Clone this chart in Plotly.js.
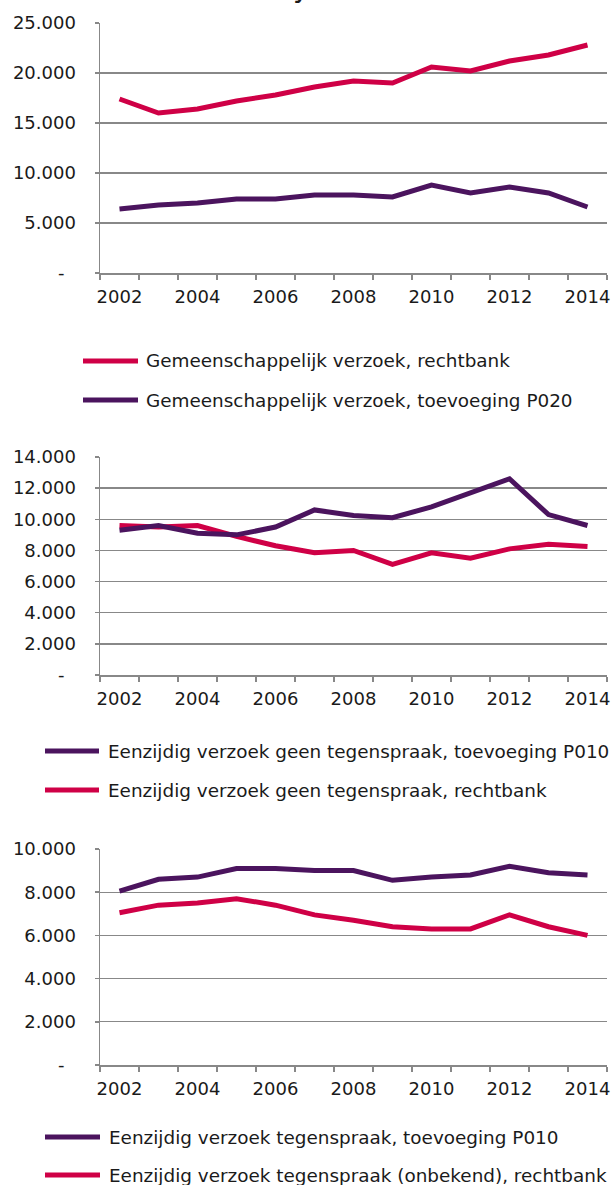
<!DOCTYPE html>
<html><head><meta charset="utf-8">
<script src="https://cdn.plot.ly/plotly-3.0.1.min.js"></script>
<style>html,body{margin:0;padding:0;background:#fff}</style>
</head><body><div id="chart" style="width:615px;height:1185px"></div>
<script>
// ---- data ----
const years = [2002,2003,2004,2005,2006,2007,2008,2009,2010,2011,2012,2013,2014];
const yearLabels = ['2002','','2004','','2006','','2008','','2010','','2012','','2014'];

const p1Names = ['Gemeenschappelijk verzoek, rechtbank', 'Gemeenschappelijk verzoek, toevoeging P020'];
const p1Rechtbank   = [17400,16000,16400,17200,17800,18600,19200,19000,20600,20200,21200,21800,22800];
const p1Toevoeging  = [6400,6800,7000,7400,7400,7800,7800,7600,8800,8000,8600,8000,6600];

const p2Names = ['Eenzijdig verzoek geen tegenspraak, toevoeging P010', 'Eenzijdig verzoek geen tegenspraak, rechtbank'];
const p2Toevoeging  = [9300,9600,9100,9000,9500,10600,10250,10100,10800,11700,12600,10300,9600];
const p2Rechtbank   = [9600,9500,9600,8900,8300,7850,8000,7100,7850,7500,8100,8400,8250];

const p3Names = ['Eenzijdig verzoek tegenspraak, toevoeging P010', 'Eenzijdig verzoek tegenspraak (onbekend), rechtbank'];
const p3Toevoeging  = [8050,8600,8700,9100,9100,9000,9000,8550,8700,8800,9200,8900,8800];
const p3Rechtbank   = [7050,7400,7500,7700,7400,6950,6700,6400,6300,6300,6950,6400,6000];

const y1Ticks = [0,5000,10000,15000,20000,25000];
const y1Labels = ['-\u2007','5.000','10.000','15.000','20.000','25.000'];
const y2Ticks = [0,2000,4000,6000,8000,10000,12000,14000];
const y2Labels = ['-\u2007','2.000','4.000','6.000','8.000','10.000','12.000','14.000'];
const y3Ticks = [0,2000,4000,6000,8000,10000];
const y3Labels = ['-\u2007','2.000','4.000','6.000','8.000','10.000'];

// ---- style ----
const RED = '#CF0046', PURPLE = '#4B145E', GRID = '#888888', TXT = '#1a1a1a';
const FONT = 'DejaVu Sans, Verdana, sans-serif';
const W = 615, H = 1185;
const fx = px => px / W;
const fy = py => 1 - py / H;

function xAxis(anchor){
  return {
    type:'category', domain:[fx(100), fx(607)], anchor:anchor, range:[-0.5,12.5],
    tickmode:'array', tickvals:years, ticktext:yearLabels, tickson:'boundaries', tickangle:0,
    ticks:'outside', ticklen:5, tickwidth:1.5, tickcolor:GRID,
    showline:true, linecolor:GRID, linewidth:1.5, showgrid:false, zeroline:false,
    tickfont:{family:FONT, size:18, color:TXT}, ticklabelstandoff:7, fixedrange:true
  };
}
function yAxis(anchor, top, bottom, maxv, tv, tt){
  return {
    domain:[fy(bottom), fy(top)], anchor:anchor, range:[0,maxv],
    tickmode:'array', tickvals:tv, ticktext:tt,
    ticks:'outside', ticklen:4, tickwidth:1.5, tickcolor:GRID,
    showgrid:true, gridcolor:GRID, gridwidth:1.4,
    showline:true, linecolor:GRID, linewidth:1.5, zeroline:false,
    tickfont:{family:FONT, size:18, color:TXT}, ticklabelstandoff:15, fixedrange:true
  };
}

function tr(y, name, color, xa, ya){
  return {x:years, y:y, name:name, type:'scatter', mode:'lines', xaxis:xa, yaxis:ya,
    line:{color:color, width:5}, showlegend:false, hoverinfo:'x+y'};
}

const data = [
  tr(p1Toevoeging, p1Names[1], PURPLE, 'x', 'y'),
  tr(p1Rechtbank,  p1Names[0], RED,    'x', 'y'),
  tr(p2Rechtbank,  p2Names[1], RED,    'x2','y2'),
  tr(p2Toevoeging, p2Names[0], PURPLE, 'x2','y2'),
  tr(p3Rechtbank,  p3Names[1], RED,    'x3','y3'),
  tr(p3Toevoeging, p3Names[0], PURPLE, 'x3','y3')
];

// legend entries (custom, to match long line samples)
const legendItems = [
  {name:p1Names[0], color:RED,    x0:83, x1:138, tx:144, y:361},
  {name:p1Names[1], color:PURPLE, x0:83, x1:138, tx:144, y:400},
  {name:p2Names[0], color:PURPLE, x0:45, x1:99,  tx:106, y:751},
  {name:p2Names[1], color:RED,    x0:45, x1:99,  tx:106, y:790},
  {name:p3Names[0], color:PURPLE, x0:45, x1:100, tx:107, y:1137},
  {name:p3Names[1], color:RED,    x0:45, x1:100, tx:107, y:1175}
];
const shapes = legendItems.map(it => ({
  type:'line', xref:'paper', yref:'paper', x0:fx(it.x0), x1:fx(it.x1), y0:fy(it.y), y1:fy(it.y),
  line:{color:it.color, width:5}
}));
const annotations = legendItems.map(it => ({
  xref:'paper', yref:'paper', x:fx(it.tx), y:fy(it.y), xanchor:'left', yanchor:'middle',
  text:it.name, showarrow:false, font:{family:FONT, size:18.4, color:TXT}
}));
// partially visible chart title (cut off at the top of the picture)
annotations.push({xref:'paper', yref:'paper', x:fx(301), y:fy(-13), xanchor:'center', yanchor:'middle',
  text:'y', showarrow:false, font:{family:FONT, size:28, color:TXT}});

const layout = {
  width:W, height:H, margin:{l:0,r:0,t:0,b:0}, paper_bgcolor:'#fff', plot_bgcolor:'#fff',
  showlegend:false, font:{family:FONT, color:TXT},
  xaxis:xAxis('y'), yaxis:yAxis('x', 23, 273, 25000, y1Ticks, y1Labels),
  xaxis2:xAxis('y2'), yaxis2:yAxis('x2', 457, 675, 14000, y2Ticks, y2Labels),
  xaxis3:xAxis('y3'), yaxis3:yAxis('x3', 849, 1065, 10000, y3Ticks, y3Labels),
  shapes:shapes, annotations:annotations
};

Plotly.newPlot('chart', data, layout, {displayModeBar:false, staticPlot:true});
</script></body></html>
